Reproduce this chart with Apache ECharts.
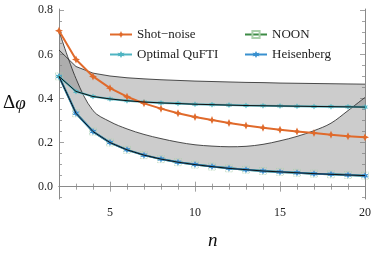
<!DOCTYPE html>
<html>
<head>
<meta charset="utf-8">
<script src="https://cdn.jsdelivr.net/npm/echarts@6/dist/echarts.min.js"></script>
<style>
html,body{margin:0;padding:0;background:#fff;}
#c{width:374px;height:255px;}
</style>
</head>
<body>
<div id="c"></div>
<script>
// ---- data ----
const nValues = [2,3,4,5,6,7,8,9,10,11,12,13,14,15,16,17,18,19,20];
const shotNoise = [0.707,0.577,0.5,0.447,0.408,0.378,0.354,0.333,0.316,0.302,0.289,0.277,0.267,0.258,0.25,0.243,0.236,0.229,0.224];
const heisenberg = [0.5,0.333,0.25,0.2,0.167,0.143,0.125,0.111,0.1,0.091,0.083,0.077,0.071,0.067,0.063,0.059,0.056,0.053,0.05];
const noon = [0.5,0.333,0.25,0.2,0.167,0.143,0.125,0.111,0.1,0.091,0.083,0.077,0.071,0.067,0.063,0.059,0.056,0.053,0.05];
const qufti = [0.5,0.432,0.409,0.398,0.39,0.384,0.38,0.377,0.374,0.372,0.37,0.368,0.367,0.366,0.365,0.364,0.363,0.362,0.361];
const bandAUpper = [0.62,0.545,0.515,0.502,0.494,0.489,0.485,0.482,0.479,0.477,0.475,0.473,0.472,0.47,0.469,0.468,0.467,0.466,0.465];
const bandBUpper = [0.707,0.49,0.345,0.295,0.262,0.237,0.218,0.202,0.19,0.184,0.181,0.183,0.192,0.208,0.228,0.254,0.288,0.345,0.405];

const xMajorTicks = [5,10,15,20];
const xMinorTicks = [2,3,4,6,7,8,9,11,12,13,14,16,17,18,19];
const yMajorTicks = [0,0.2,0.4,0.6,0.8];
const yMinorTicks = [-0.05,0.05,0.1,0.15,0.25,0.3,0.35,0.45,0.5,0.55,0.65,0.7,0.75];

const names = {shot:'Shot\u2212noise', noon:'NOON', qufti:'Optimal QuFTI', heis:'Heisenberg'};

// ---- helpers ----
const pairs = arr => nValues.map((n,i)=>[n, arr[i]]);
const diff = (up, lo) => up.map((v,i)=>+(v-lo[i]).toFixed(4));

const serif = 'Liberation Serif';
const axisGray = '#8a8a8a';
const Y_MIN = -0.056, Y_MAX = 0.806;

function xAx(pos, ticks, len, showLine, labels){
  return {
    type:'value', min:2, max:20, position:pos,
    axisLine:{show:showLine, lineStyle:{color:axisGray, width:1}},
    axisTick:{show:true, inside:true, length:len, customValues:ticks, lineStyle:{color:axisGray, width:0.8}},
    axisLabel: labels ? {show:true, customValues:xMajorTicks, fontFamily:serif, fontSize:12, color:'#222', margin:8} : {show:false},
    splitLine:{show:false}
  };
}
function yAx(pos, ticks, len, showLine, labels){
  return {
    type:'value', min:Y_MIN, max:Y_MAX, position:pos,
    axisLine:{show:showLine, lineStyle:{color:axisGray, width:1}},
    axisTick:{show:true, inside:true, length:len, customValues:ticks, lineStyle:{color:axisGray, width:0.8}},
    axisLabel: labels ? {show:true, customValues:yMajorTicks, fontFamily:serif, fontSize:12, color:'#222', margin:6,
      formatter:v=>(+v).toFixed(1)} : {show:false},
    splitLine:{show:false}
  };
}

const star4 = 'path://M0,-10 L3,-3 L10,0 L3,3 L0,10 L-3,3 L-10,0 L-3,-3 Z';
const star6 = 'path://M0,-10 L2.5,-4.3 L8.7,-5 L5,0 L8.7,5 L2.5,4.3 L0,10 L-2.5,4.3 L-8.7,5 L-5,0 L-8.7,-5 L-2.5,-4.3 Z';

const orange = '#e06a2b', teal = '#4fb4c2', blue = '#3990cf', green = '#3d8b45';
const bandFill = 'rgba(128,128,128,0.4)';

// stacked bands live on a hidden category axis that spans the same n range
function bandBase(lower, stack){
  return {type:'line', xAxisIndex:4, stack:stack, data:lower, symbol:'none', silent:true,
    lineStyle:{opacity:0}, z:1};
}
function bandTop(upper, lower, stack, smooth){
  return {type:'line', xAxisIndex:4, stack:stack, data:diff(upper, lower), symbol:'none', silent:true,
    smooth:smooth, lineStyle:{color:'#222', width:0.8}, areaStyle:{color:bandFill, opacity:1}, z:1};
}
function edgeSeries(arr, width, z){
  return {type:'line', data:pairs(arr), symbol:'none', silent:true,
    lineStyle:{color:'#111', width:width}, z:z};
}

const chart = echarts.init(document.getElementById('c'), null, {renderer:'canvas'});
chart.setOption({
  animation:false,
  grid:{left:59, right:8, top:9, bottom:56, containLabel:false},
  xAxis:[
    xAx('bottom', xMajorTicks, 5, true, true),
    xAx('bottom', xMinorTicks, 3, false, false),
    xAx('top', xMajorTicks, 5, true, false),
    xAx('top', xMinorTicks, 3, false, false),
    {type:'category', data:nValues.map(String), boundaryGap:false, show:false}
  ],
  yAxis:[
    yAx('left', yMajorTicks, 5, true, true),
    yAx('left', yMinorTicks, 3, false, false),
    yAx('right', yMajorTicks, 5, true, false),
    yAx('right', yMinorTicks, 3, false, false)
  ],
  legend:[
    {orient:'vertical', left:104, top:23, itemWidth:22, itemHeight:9, itemGap:7,
     data:[names.shot, names.qufti],
     textStyle:{fontFamily:serif, fontSize:13, color:'#222'}},
    {orient:'vertical', left:239, top:23, itemWidth:22, itemHeight:9, itemGap:7,
     data:[names.noon, names.heis],
     textStyle:{fontFamily:serif, fontSize:13, color:'#222'}}
  ],
  graphic:[
    {type:'text', left:3, top:94, style:{text:'{a|Δ}{b|φ}', rich:{
      a:{fontFamily:serif, fontSize:19, fill:'#111'},
      b:{fontFamily:serif, fontSize:19, fontStyle:'italic', fill:'#111'}}}},
    {type:'text', left:208, top:231, style:{text:'n', fontFamily:serif, fontSize:19, fontStyle:'italic', fill:'#111'}}
  ],
  series:[
    bandBase(qufti, 'A'),
    bandTop(bandAUpper, qufti, 'A', false),
    bandBase(heisenberg, 'B'),
    bandTop(bandBUpper, heisenberg, 'B', 0.35),
    {type:'line', name:names.noon, data:pairs(noon), symbol:'rect', symbolSize:7,
     lineStyle:{color:green, width:2}, itemStyle:{color:'rgba(255,255,255,0)', borderColor:'#a9cfa9', borderWidth:0.8, borderType:'dotted'}, z:2},
    {type:'line', name:names.heis, data:pairs(heisenberg), symbol:star6, symbolSize:7,
     lineStyle:{color:blue, width:2}, itemStyle:{color:blue}, z:3},
    {type:'line', name:names.qufti, data:pairs(qufti), symbol:star6, symbolSize:6,
     lineStyle:{color:teal, width:2}, itemStyle:{color:teal}, z:3},
    edgeSeries(qufti, 1, 5),
    edgeSeries(heisenberg, 1, 5),
    {type:'line', name:names.shot, data:pairs(shotNoise), symbol:star4, symbolSize:8,
     lineStyle:{color:orange, width:2}, itemStyle:{color:orange}, z:4}
  ]
});
</script>
</body>
</html>
